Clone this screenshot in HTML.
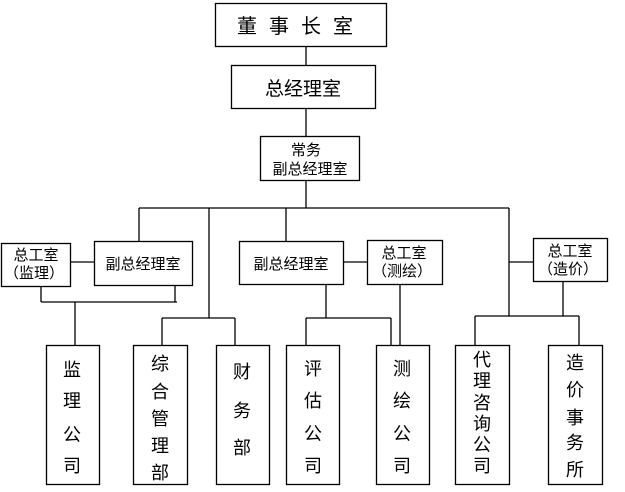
<!DOCTYPE html>
<html><head><meta charset="utf-8"><style>
html,body{margin:0;padding:0;background:#fff;}
svg{display:block;}
text{font-family:"Liberation Sans","Noto Sans CJK SC","WenQuanYi Zen Hei",sans-serif;fill:#000;}
</style></head><body>
<svg width="625" height="492" viewBox="0 0 625 492" xmlns="http://www.w3.org/2000/svg">
<g fill="none" stroke="#000" stroke-width="1.3">
<rect x="215.5" y="3.5" width="171" height="43"/>
<rect x="231.5" y="65.5" width="144" height="43"/>
<rect x="260.5" y="136.5" width="99" height="44"/>
<line x1="306" y1="46" x2="306" y2="65"/>
<line x1="306" y1="108" x2="306" y2="136"/>
<line x1="306" y1="180" x2="306" y2="208"/>
<line x1="139" y1="208" x2="509" y2="208"/>
<line x1="139" y1="208" x2="139" y2="241"/>
<rect x="1.5" y="243.5" width="69" height="43"/>
<rect x="94.5" y="241.5" width="98" height="44"/>
<line x1="70" y1="262" x2="94" y2="262"/>
<line x1="41" y1="286" x2="41" y2="302"/>
<line x1="175" y1="285" x2="175" y2="302"/>
<line x1="41" y1="302" x2="177" y2="302"/>
<line x1="75" y1="302" x2="75" y2="345"/>
<line x1="209" y1="208" x2="209" y2="318"/>
<line x1="162" y1="318" x2="235" y2="318"/>
<line x1="162" y1="318" x2="162" y2="345"/>
<line x1="235" y1="318" x2="235" y2="345"/>
<line x1="286" y1="208" x2="286" y2="241"/>
<rect x="239.5" y="241.5" width="104" height="43"/>
<rect x="367.5" y="240.5" width="75" height="44"/>
<line x1="343" y1="262" x2="367" y2="262"/>
<line x1="326" y1="284" x2="326" y2="318"/>
<line x1="306" y1="318" x2="391" y2="318"/>
<line x1="306" y1="318" x2="306" y2="345"/>
<line x1="391" y1="318" x2="391" y2="345"/>
<line x1="400" y1="284" x2="400" y2="345"/>
<line x1="509" y1="208" x2="509" y2="316"/>
<line x1="509" y1="262" x2="533" y2="262"/>
<rect x="533.5" y="238.5" width="74" height="43"/>
<line x1="563" y1="281" x2="563" y2="316"/>
<line x1="475" y1="316" x2="579" y2="316"/>
<line x1="475" y1="316" x2="475" y2="345"/>
<line x1="579" y1="316" x2="579" y2="345"/>
<rect x="46.5" y="345.5" width="53" height="139"/>
<rect x="133.5" y="345.5" width="54" height="139"/>
<rect x="216.5" y="345.5" width="53" height="139"/>
<rect x="286.5" y="345.5" width="53" height="139"/>
<rect x="376.5" y="345.5" width="53" height="139"/>
<rect x="455.5" y="345.5" width="54" height="139"/>
<rect x="548.5" y="345.5" width="54" height="139"/>
</g>
<g text-anchor="middle">
<text x="301" y="33" font-size="20" letter-spacing="12">董事长室</text>
<text x="303" y="95" font-size="19">总经理室</text>
<text x="306" y="155" font-size="15">常务</text>
<text x="310" y="174" font-size="15">副总经理室</text>
<text x="36" y="260" font-size="15">总工室</text>
<text x="34" y="278" font-size="15">（监理）</text>
<text x="143" y="269" font-size="15">副总经理室</text>
<text x="291" y="269" font-size="15">副总经理室</text>
<text x="404" y="258" font-size="15">总工室</text>
<text x="402" y="276" font-size="15">（测绘）</text>
<text x="570" y="256" font-size="15">总工室</text>
<text x="568" y="274" font-size="15">（造价）</text>
</g>
<g text-anchor="middle" font-size="18">
<text x="72" y="376">监</text><text x="72" y="407">理</text><text x="72" y="441">公</text><text x="72" y="472">司</text>
<text x="160" y="370">综</text><text x="160" y="398">合</text><text x="160" y="425">管</text><text x="160" y="452">理</text><text x="160" y="479">部</text>
<text x="242" y="378">财</text><text x="242" y="417">务</text><text x="242" y="454">部</text>
<text x="313" y="375">评</text><text x="313" y="407">估</text><text x="313" y="440">公</text><text x="313" y="472">司</text>
<text x="402" y="375">测</text><text x="402" y="407">绘</text><text x="402" y="440">公</text><text x="402" y="472">司</text>
<text x="482" y="366">代</text><text x="482" y="387">理</text><text x="482" y="409">咨</text><text x="482" y="430">询</text><text x="482" y="451">公</text><text x="482" y="472">司</text>
<text x="575" y="369">造</text><text x="575" y="396">价</text><text x="575" y="424">事</text><text x="575" y="449">务</text><text x="575" y="476">所</text>
</g>
</svg>
</body></html>
